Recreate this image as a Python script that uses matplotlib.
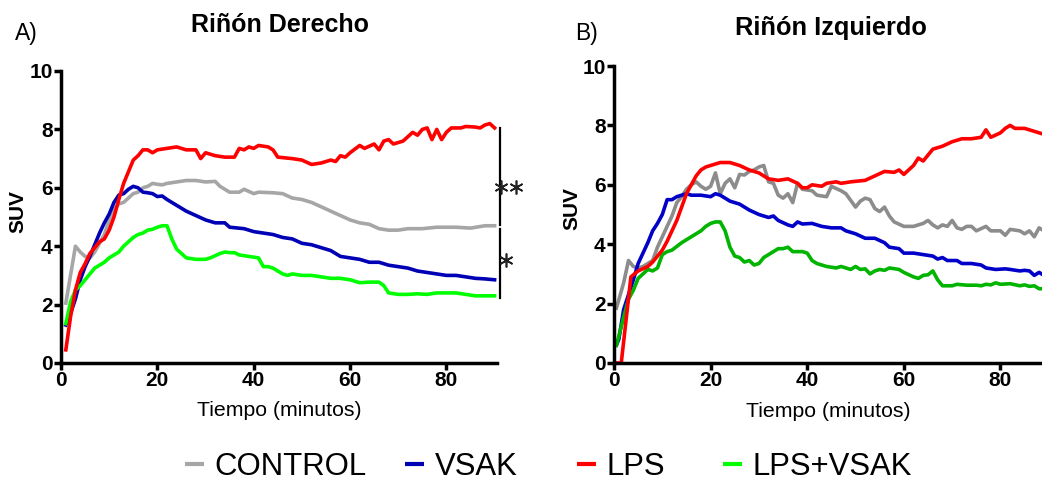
import matplotlib
matplotlib.use("Agg")
import matplotlib.pyplot as plt
from matplotlib.lines import Line2D
from matplotlib.font_manager import FontProperties

# ---- Riñón Derecho (A) ----
a_red_t = [1, 2, 3, 4, 5, 6, 8, 9, 10, 11, 12, 13, 14, 15, 16, 17, 18, 19, 20, 22, 24, 26, 28, 29, 30, 32, 34, 36, 37, 38, 39, 40, 41, 43, 44, 45, 48, 50, 52, 54, 56, 57, 58, 59, 60, 62, 63, 65, 66, 67, 68, 69, 71, 73, 74, 75, 76, 77, 78, 79, 80, 81, 83, 84, 86, 87, 88, 89, 90]
a_red_v = [0.45, 1.6, 2.5, 3.1, 3.4, 3.75, 4.15, 4.25, 4.55, 5.0, 5.6, 6.15, 6.55, 6.95, 7.1, 7.3, 7.3, 7.2, 7.3, 7.35, 7.4, 7.3, 7.3, 7.0, 7.2, 7.1, 7.05, 7.05, 7.35, 7.3, 7.4, 7.35, 7.45, 7.4, 7.3, 7.05, 7.0, 6.95, 6.8, 6.85, 6.95, 6.9, 7.1, 7.05, 7.2, 7.45, 7.35, 7.5, 7.3, 7.6, 7.65, 7.5, 7.6, 7.9, 7.8, 8.0, 8.05, 7.65, 8.0, 7.65, 7.9, 8.05, 8.05, 8.1, 8.08, 8.05, 8.15, 8.2, 8.05]

a_gray_t = [1, 3, 4, 5, 6, 7, 8, 9, 10, 11, 12, 13, 14, 15, 16, 17, 18, 19, 20, 21, 22, 24, 26, 28, 30, 32, 33, 35, 37, 38, 40, 41, 44, 46, 48, 50, 52, 54, 56, 58, 60, 62, 64, 66, 68, 70, 72, 75, 78, 82, 85, 88, 90]
a_gray_v = [2.05, 4.0, 3.8, 3.65, 3.6, 3.8, 4.1, 4.4, 4.9, 5.25, 5.45, 5.5, 5.65, 5.8, 5.85, 6.0, 6.05, 6.15, 6.12, 6.1, 6.15, 6.2, 6.25, 6.25, 6.2, 6.22, 6.05, 5.85, 5.85, 5.95, 5.8, 5.85, 5.83, 5.8, 5.65, 5.6, 5.5, 5.35, 5.2, 5.05, 4.9, 4.8, 4.75, 4.6, 4.55, 4.55, 4.6, 4.6, 4.65, 4.65, 4.62, 4.7, 4.7]

a_blue_t = [1, 2, 3, 4, 5, 6, 7, 8, 9, 10, 11, 12, 13, 14, 15, 16, 17, 18, 19, 20, 21, 22, 24, 26, 28, 30, 32, 34, 35, 38, 40, 42, 44, 46, 48, 50, 52, 54, 56, 58, 60, 62, 64, 66, 68, 70, 72, 74, 76, 78, 80, 82, 84, 86, 88, 90]
a_blue_v = [1.3, 1.7, 2.2, 2.85, 3.3, 3.65, 4.05, 4.45, 4.8, 5.1, 5.5, 5.75, 5.8, 5.95, 6.05, 6.0, 5.85, 5.83, 5.8, 5.7, 5.72, 5.6, 5.4, 5.2, 5.05, 4.9, 4.8, 4.8, 4.65, 4.6, 4.5, 4.45, 4.4, 4.3, 4.25, 4.1, 4.05, 3.95, 3.85, 3.65, 3.6, 3.55, 3.45, 3.45, 3.35, 3.3, 3.25, 3.15, 3.1, 3.05, 3.0, 3.0, 2.95, 2.9, 2.88, 2.85]

a_green_t = [1, 2, 3, 4, 5, 6, 7, 8, 9, 10, 11, 12, 13, 14, 15, 16, 17, 18, 19, 20, 21, 22, 23, 24, 25, 26, 28, 30, 31, 33, 34, 35, 36, 37, 39, 41, 42, 43, 44, 46, 47, 48, 50, 52, 54, 56, 58, 60, 62, 64, 66, 67, 68, 70, 72, 74, 76, 78, 80, 82, 84, 86, 88, 90]
a_green_v = [1.35, 2.1, 2.5, 2.65, 2.85, 3.05, 3.25, 3.35, 3.45, 3.6, 3.7, 3.8, 4.0, 4.15, 4.3, 4.4, 4.45, 4.55, 4.58, 4.65, 4.7, 4.7, 4.25, 3.9, 3.75, 3.6, 3.55, 3.55, 3.6, 3.75, 3.8, 3.78, 3.78, 3.7, 3.65, 3.6, 3.3, 3.3, 3.25, 3.05, 3.0, 3.05, 3.0, 3.0, 2.95, 2.9, 2.9, 2.85, 2.75, 2.77, 2.77, 2.65, 2.4, 2.35, 2.35, 2.37, 2.35, 2.4, 2.4, 2.4, 2.35, 2.3, 2.3, 2.3]

# ---- Riñón Izquierdo (B) ----
b_red_t = [0, 1.5, 3.5, 5, 7, 8, 9, 10, 11, 12, 13, 14, 15, 16, 17, 18, 19, 20, 22, 24, 25, 26, 28, 30, 32, 34, 36, 38, 39, 40, 41, 43, 44, 46, 47, 49, 52, 54, 56, 58, 59, 60, 62, 63, 64, 66, 68, 70, 72, 74, 76, 77, 78, 80, 81, 82, 83, 85, 87, 89, 90]
b_red_v = [0.0, 0.0, 2.9, 3.1, 3.25, 3.4, 3.6, 3.8, 4.1, 4.45, 4.8, 5.25, 5.7, 6.0, 6.3, 6.5, 6.6, 6.65, 6.75, 6.75, 6.7, 6.65, 6.5, 6.4, 6.2, 6.15, 6.2, 6.05, 5.9, 5.9, 6.0, 5.95, 6.05, 6.1, 6.05, 6.1, 6.15, 6.3, 6.45, 6.42, 6.5, 6.35, 6.65, 6.9, 6.8, 7.2, 7.3, 7.45, 7.55, 7.55, 7.6, 7.85, 7.6, 7.75, 7.9, 8.0, 7.9, 7.9, 7.8, 7.7, 7.7]

b_gray_t = [0.5, 2, 3, 4, 5, 6, 7, 8, 9, 10, 11, 12, 13, 14, 15, 16, 17, 18, 19, 20, 21, 22, 23, 24, 25, 26, 27, 28, 29, 30, 31, 32, 33, 34, 35, 36, 37, 38, 39, 41, 42, 44, 45, 47, 48, 50, 51, 52, 53, 54, 55, 56, 57, 58, 60, 62, 64, 65, 66, 67, 68, 69, 70, 71, 72, 73, 74, 75, 77, 78, 80, 81, 82, 84, 85, 86, 87, 88, 89]
b_gray_v = [1.85, 2.7, 3.45, 3.25, 3.2, 3.25, 3.35, 3.45, 3.9, 4.25, 4.6, 4.95, 5.4, 5.6, 5.85, 6.0, 6.1, 5.95, 5.85, 5.95, 6.4, 5.7, 6.05, 6.2, 5.9, 6.35, 6.33, 6.45, 6.5, 6.6, 6.65, 6.1, 6.05, 5.65, 5.55, 5.7, 5.4, 6.05, 5.85, 5.8, 5.65, 5.6, 5.95, 5.8, 5.7, 5.25, 5.45, 5.55, 5.5, 5.2, 5.1, 5.25, 4.95, 4.75, 4.6, 4.6, 4.7, 4.8, 4.65, 4.55, 4.65, 4.6, 4.8, 4.55, 4.5, 4.6, 4.6, 4.45, 4.6, 4.45, 4.45, 4.3, 4.5, 4.45, 4.35, 4.45, 4.25, 4.55, 4.45]

b_blue_t = [0.5, 1, 2, 3, 4, 5, 6, 7, 8, 9, 10, 11, 12, 13, 14, 15, 16, 18, 20, 21, 22, 24, 26, 28, 30, 32, 33, 34, 36, 37, 38, 39, 41, 43, 45, 47, 48, 50, 52, 54, 56, 57, 59, 60, 62, 64, 66, 67, 68, 69, 71, 72, 74, 76, 77, 79, 81, 82, 84, 85, 86, 87, 88, 89]
b_blue_v = [0.6, 0.8, 1.8, 2.3, 2.8, 3.35, 3.7, 4.05, 4.45, 4.7, 5.0, 5.5, 5.5, 5.6, 5.65, 5.7, 5.65, 5.65, 5.6, 5.7, 5.65, 5.45, 5.35, 5.15, 5.0, 4.9, 4.95, 4.8, 4.65, 4.6, 4.75, 4.68, 4.7, 4.6, 4.55, 4.55, 4.45, 4.35, 4.2, 4.2, 4.05, 3.9, 3.85, 3.7, 3.7, 3.65, 3.6, 3.5, 3.55, 3.45, 3.45, 3.35, 3.35, 3.3, 3.2, 3.15, 3.17, 3.15, 3.1, 3.12, 3.1, 2.95, 3.05, 2.95]

b_green_t = [0.5, 1, 2, 3, 4, 5, 6, 7, 8, 9, 10, 11, 12, 14, 16, 18, 19, 20, 21, 22, 23, 24, 25, 26, 27, 28, 29, 30, 31, 33, 34, 35, 36, 37, 39, 40, 41, 42, 44, 46, 47, 49, 50, 51, 52, 53, 54, 55, 56, 57, 59, 60, 62, 63, 64, 65, 66, 67, 68, 70, 71, 73, 75, 76, 77, 78, 79, 80, 82, 84, 85, 86, 87, 88, 89]
b_green_v = [0.6, 0.9, 1.55, 2.15, 2.45, 2.85, 3.0, 3.15, 3.1, 3.2, 3.65, 3.75, 3.8, 4.05, 4.25, 4.45, 4.6, 4.7, 4.75, 4.75, 4.45, 3.9, 3.6, 3.55, 3.4, 3.45, 3.3, 3.35, 3.55, 3.75, 3.85, 3.85, 3.9, 3.75, 3.75, 3.7, 3.45, 3.35, 3.25, 3.2, 3.25, 3.15, 3.25, 3.15, 3.17, 3.0, 3.1, 3.15, 3.12, 3.2, 3.15, 3.05, 2.9, 2.85, 2.95, 2.97, 3.1, 2.8, 2.6, 2.6, 2.65, 2.62, 2.62, 2.6, 2.65, 2.63, 2.7, 2.65, 2.67, 2.6, 2.63, 2.58, 2.6, 2.5, 2.5]

labels = ["CONTROL", "VSAK", "LPS", "LPS+VSAK"]
legend_colors = ["#a6a6a6", "#0000b4", "#ff0000", "#00ff00"]
legend_x = [185, 405, 577, 723]  # left edge of each legend handle, px

W, H = 1042, 484
fig = plt.figure(figsize=(W / 100, H / 100), dpi=100)
ax_a = fig.add_axes([61 / W, 1 - 363 / H, (497 - 61) / W, (363 - 71) / H])
ax_b = fig.add_axes([614 / W, 1 - 363 / H, (1042 - 614) / W, (363 - 66) / H])

tick_fp = FontProperties(family="Liberation Sans", weight="bold", size=15)


def style_axis(ax, xmax, xlab_y):
    ax.set_xlim(0, xmax)
    ax.set_ylim(0, 10)
    ax.set_xticks([0, 20, 40, 60, 80])
    ax.set_yticks([0, 2, 4, 6, 8, 10])
    ax.spines[["top", "right"]].set_visible(False)
    for s in ["left", "bottom"]:
        ax.spines[s].set_linewidth(2.5)
    ax.tick_params(width=2.5, length=5, direction="out", pad=1)
    for lab in ax.get_xticklabels() + ax.get_yticklabels():
        lab.set_fontproperties(tick_fp)
    ax.set_xlabel("Tiempo (minutos)", fontsize=15.3, family="Liberation Sans", va="center")
    ax.xaxis.set_label_coords(0.5, xlab_y)
    ax.set_ylabel("SUV", fontsize=15, fontweight="bold", family="Liberation Sans", va="center")
    ax.yaxis.set_label_coords(-0.0986, 0.52)


lw = 2.6
ax_a.plot(a_gray_t, a_gray_v, color="#a6a6a6", lw=lw, clip_on=False)
ax_a.plot(a_blue_t, a_blue_v, color="#0000b4", lw=lw, clip_on=False)
ax_a.plot(a_green_t, a_green_v, color="#00ff00", lw=lw, clip_on=False)
ax_a.plot(a_red_t, a_red_v, color="#ff0000", lw=lw, clip_on=False)
style_axis(ax_a, 90.5, -0.164)

ax_b.plot(b_gray_t, b_gray_v, color="#8c8c8c", lw=lw)
ax_b.plot(b_blue_t, b_blue_v, color="#0000c8", lw=lw)
ax_b.plot(b_green_t, b_green_v, color="#00b400", lw=lw)
ax_b.plot(b_red_t, b_red_v, color="#ff0000", lw=lw)
style_axis(ax_b, 88.6, -0.162)

# significance brackets
ax_a.plot([91.2, 91.2], [8.05, 4.72], color="black", lw=1.6, clip_on=False)
ax_a.plot([91.2, 91.2], [4.6, 2.23], color="black", lw=1.6, clip_on=False)
star = dict(marker=(6, 2, 0), color="#222222", ms=10, mew=1.2, ls="none", clip_on=False)
ax_a.plot([91.3, 94.4], [6.03, 6.03], **star)
ax_a.plot([92.4], [3.53], **star)

fig.text(280 / W, 1 - 32 / H, "Riñón Derecho", ha="center", va="baseline",
         fontsize=18, fontweight="bold", family="Liberation Sans")
fig.text(831 / W, 1 - 35 / H, "Riñón Izquierdo", ha="center", va="baseline",
         fontsize=18.3, fontweight="bold", family="Liberation Sans")
fig.text(15 / W, 1 - 40 / H, "A)", ha="left", va="baseline", fontsize=16.5, family="Liberation Sans")
fig.text(575 / W, 1 - 40 / H, "B)", ha="left", va="baseline", fontsize=16.5, family="Liberation Sans")

for lab, col, x0 in zip(labels, legend_colors, legend_x):
    fig.legend([Line2D([], [], color=col, lw=3.0, solid_capstyle="butt")], [lab],
               loc="center left", bbox_to_anchor=(x0 / W, 1 - 467 / H),
               frameon=False, borderpad=0, borderaxespad=0,
               handlelength=0.6, handletextpad=0.35,
               prop={"family": "Liberation Sans", "size": 22.4})

fig.savefig("out.png", dpi=100)
